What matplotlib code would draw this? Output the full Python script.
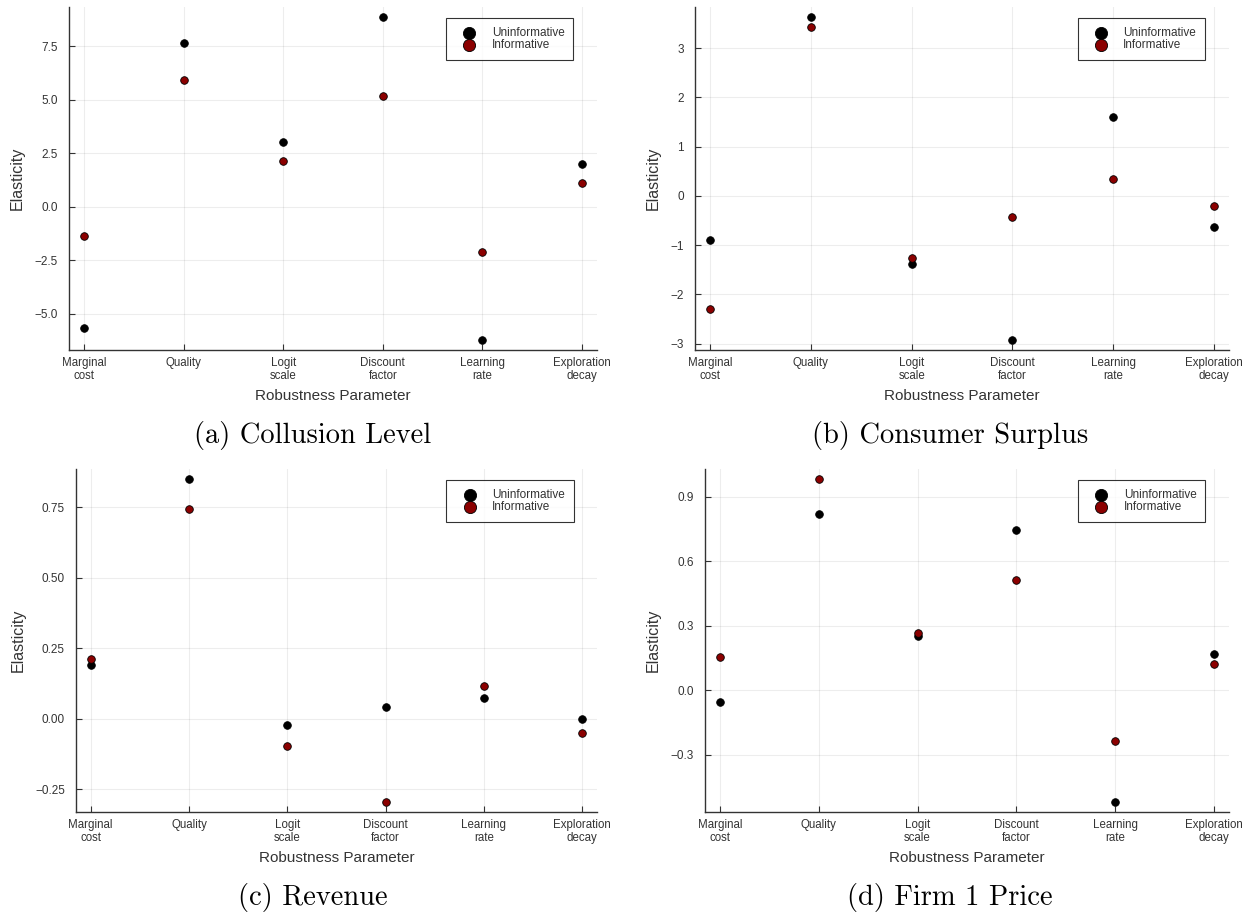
import numpy as np
import matplotlib
matplotlib.use('Agg')
import matplotlib.pyplot as plt
from matplotlib.ticker import MultipleLocator

# data
params = ['Marginal\ncost', 'Quality', 'Logit\nscale', 'Discount\nfactor', 'Learning\nrate', 'Exploration\ndecay']

collusion_uninf = [-5.65, 7.64, 3.03, 8.87, -6.24, 2.01]
collusion_inf = [-1.35, 5.93, 2.11, 5.19, -2.13, 1.09]

surplus_uninf = [-0.90, 3.64, -1.39, -2.93, 1.60, -0.63]
surplus_inf = [-2.29, 3.44, -1.26, -0.43, 0.34, -0.21]

revenue_uninf = [0.190, 0.851, -0.021, 0.041, 0.073, -0.001]
revenue_inf = [0.212, 0.744, -0.097, -0.296, 0.116, -0.052]

price_uninf = [-0.054, 0.818, 0.252, 0.743, -0.521, 0.168]
price_inf = [0.156, 0.983, 0.267, 0.513, -0.238, 0.121]

captions = ['(a) Collusion Level', '(b) Consumer Surplus', '(c) Revenue', '(d) Firm 1 Price']
tick_steps = [2.5, 1, 0.25, 0.3]
tick_fmts = ['%.1f', '%d', '%.2f', '%.1f']

plt.rcParams['font.family'] = ['Liberation Sans Narrow', 'Liberation Sans', 'DejaVu Sans']

W, H = 1244, 915
fig = plt.figure(figsize=(W / 100, H / 100), dpi=100)

# axes boxes in pixels: left, right, top, bottom
boxes = [(69, 597, 7, 350), (695, 1229, 7, 350), (76, 597, 469, 812), (705, 1229, 469, 812)]
cap_pos = [(313, 435), (950, 435), (313, 897), (950, 897)]
series = [(collusion_uninf, collusion_inf), (surplus_uninf, surplus_inf),
          (revenue_uninf, revenue_inf), (price_uninf, price_inf)]

x = np.arange(1, len(params) + 1)


def fmt_minus(fmt):
    # use a real minus sign like the reference
    return lambda v, pos: (fmt % v).replace('-', '\u2212')


for i in range(4):
    l, r, t, b = boxes[i]
    ax = fig.add_axes([l / W, 1 - b / H, (r - l) / W, (b - t) / H])
    uninf, inf = series[i]
    ax.scatter(x, uninf, s=30, color='black', edgecolors='black', linewidths=0.6,
               label='Uninformative', zorder=3)
    ax.scatter(x, inf, s=30, color='#8b0000', edgecolors='black', linewidths=0.6,
               label='Informative', zorder=3)
    ax.margins(x=0.03, y=0.03)
    ax.set_xticks(x)
    ax.set_xticklabels(params, fontsize=8.3, color='#333333', linespacing=1.15)
    ax.yaxis.set_major_locator(MultipleLocator(tick_steps[i]))
    ax.yaxis.set_major_formatter(plt.FuncFormatter(fmt_minus(tick_fmts[i])))
    ax.tick_params(axis='y', labelsize=8.5, labelcolor='#333333', pad=8)
    ax.tick_params(axis='x', pad=5)
    ax.tick_params(direction='in', length=4, width=0.8, color='#333333')
    ax.grid(True, color='#000000', alpha=0.07, linewidth=0.8)
    ax.set_axisbelow(True)
    for s in ['top', 'right']:
        ax.spines[s].set_visible(False)
    for s in ['left', 'bottom']:
        ax.spines[s].set_color('#333333')
        ax.spines[s].set_linewidth(1.0)
    ax.set_xlabel('Robustness Parameter', fontsize=11, color='#333333', labelpad=5)
    ax.set_ylabel('Elasticity', fontsize=11.5, color='#333333', labelpad=7)

    leg = ax.legend(loc='upper right', bbox_to_anchor=(0.955, 0.968), borderaxespad=0,
                    fontsize=8.5, frameon=True, fancybox=False, markerscale=1.6,
                    handletextpad=0.7, borderpad=0.75, labelspacing=0.05,
                    handlelength=2.4)
    leg.get_frame().set_edgecolor('black')
    leg.get_frame().set_linewidth(0.8)
    for txt in leg.get_texts():
        txt.set_color('#333333')
    cx, cy = cap_pos[i]
    fig.text(cx / W, 1 - cy / H, captions[i], family='cmr10', fontsize=20.5,
             ha='center', va='center')

fig.savefig('out.png', dpi=100)
